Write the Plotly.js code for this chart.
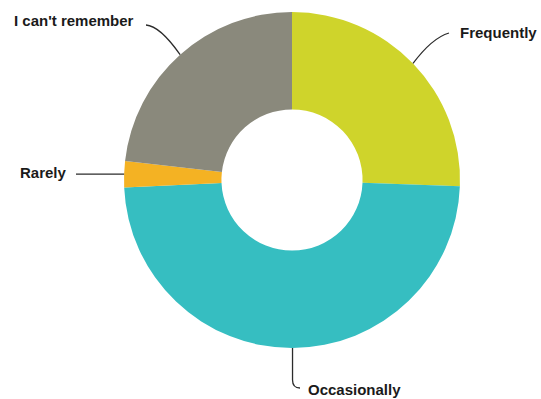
<!DOCTYPE html>
<html>
<head>
<meta charset="utf-8">
<script src="https://cdn.plot.ly/plotly-3.0.1.min.js"></script>
<style>html,body{margin:0;padding:0;background:#fff;}#chart{width:541px;height:399px;}</style>
</head>
<body>
<div id="chart"></div>
<script>
// Data
const labels = ["Frequently", "Occasionally", "Rarely", "I can't remember"];
const values = [25.6, 48.7, 2.5, 23.2];
const colors = ["#cfd42b", "#36bec1", "#f4b223", "#8a897c"];

// Layout geometry (pixels)
const W = 541, H = 399;
const cx = 292, cy = 180, R = 168;
const px = x => x / W;
const py = y => 1 - y / H;

// Mid-angle point on outer edge of each slice, from data (clockwise from top)
const total = values.reduce((a, b) => a + b, 0);
let acc = 0;
const edge = values.map(v => {
  const mid = (acc + v / 2) / total * 2 * Math.PI;
  acc += v;
  return [cx + R * Math.sin(mid), cy - R * Math.cos(mid)];
});

// Label placements (pixels): text anchor point, alignment, leader path after edge
const labelPos = [
  {x: 458, y: 32, anchor: "left", path: (e) => `M ${e[0]} ${e[1]} Q 432 38 449 33`},
  {x: 306, y: 389, anchor: "left", path: (e) => `M ${e[0]} ${e[1]} L ${e[0]} 380 Q ${e[0]} 388 300 388`},
  {x: 69, y: 172, anchor: "right", path: (e) => `M ${e[0]} ${e[1]} L 76 ${e[1]}`},
  {x: 136, y: 21, anchor: "right", path: (e) => `M ${e[0]} ${e[1]} Q 160 26 146 25`}
];

function toPaperPath(p) {
  const tokens = p.split(" ");
  const out = [];
  let isX = true;
  for (const t of tokens) {
    if (/^[A-Za-z]$/.test(t)) { out.push(t); isX = true; continue; }
    const n = parseFloat(t);
    if (isX) { out.push(px(n).toFixed(5)); } else { out.push(py(n).toFixed(5)); }
    isX = !isX;
  }
  return out.join(" ");
}

const shapes = labelPos.map((lp, i) => ({
  type: "path", xref: "paper", yref: "paper",
  path: toPaperPath(lp.path(edge[i])),
  line: {color: "#2b2b2b", width: 1.3}
}));

const annotations = labelPos.map((lp, i) => ({
  text: "<b>" + labels[i] + "</b>",
  xref: "paper", yref: "paper",
  x: px(lp.x), y: py(lp.y),
  xanchor: lp.anchor, yanchor: "middle",
  showarrow: false,
  font: {family: "Liberation Sans, Arial, sans-serif", size: 15, color: "#1a1a1a"}
}));

const trace = {
  type: "pie",
  labels: labels,
  values: values,
  sort: false,
  direction: "clockwise",
  rotation: 0,
  hole: 0.42,
  textinfo: "none",
  hoverinfo: "label+percent",
  marker: {colors: colors, line: {width: 0}},
  domain: {x: [px(cx - R), px(cx + R)], y: [py(cy + R), py(cy - R)]}
};

const layout = {
  width: W, height: H,
  margin: {l: 0, r: 0, t: 0, b: 0},
  showlegend: false,
  paper_bgcolor: "#fff",
  shapes: shapes,
  annotations: annotations
};

Plotly.newPlot("chart", [trace], layout, {staticPlot: true, displayModeBar: false});
</script>
</body>
</html>
